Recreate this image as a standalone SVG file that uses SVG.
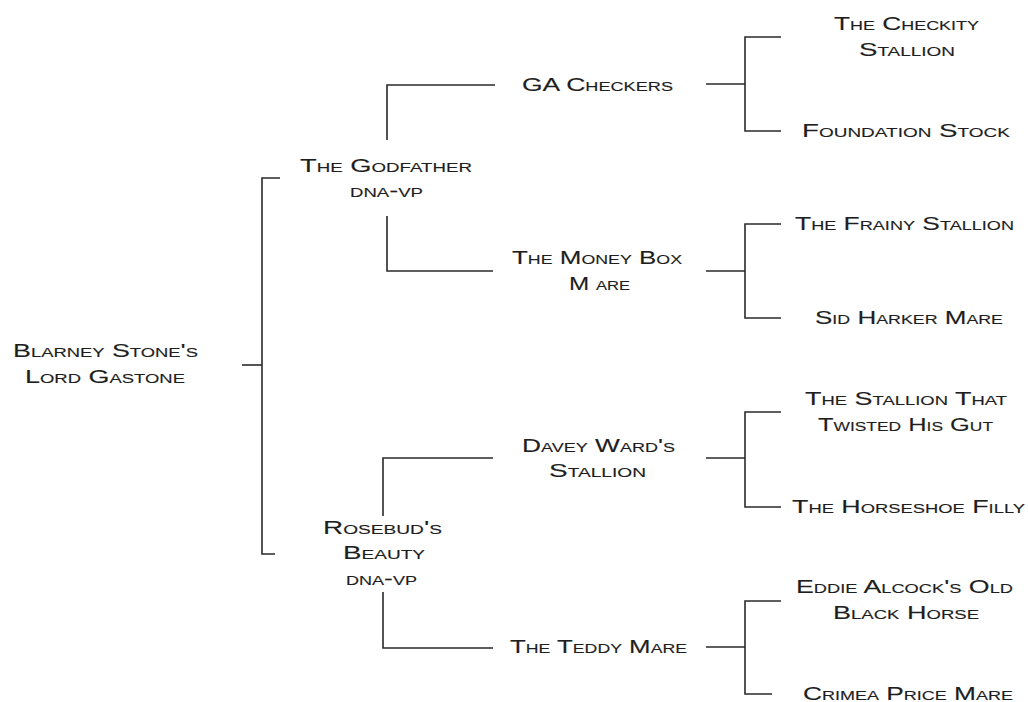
<svg xmlns="http://www.w3.org/2000/svg" width="1028" height="702" viewBox="0 0 1028 702">
<style>
text{font-family:"Liberation Sans",Arial,sans-serif;font-size:19px;font-variant:small-caps;fill:#1e1e1e;stroke:#1e1e1e;stroke-width:0.12}
.c path{fill:none;stroke:#2a2a2a;stroke-width:1.6}
</style>
<rect width="1028" height="702" fill="#fff"/>
<g class="c" id="connectors">
<path d="M242 365H262"/>
<path d="M280 178H262V554H275"/>
<path d="M495 85H387V140"/>
<path d="M387 216V271H493"/>
<path d="M493 458H383V516"/>
<path d="M383 592V648H493"/>
<path d="M706 84H745"/>
<path d="M781 37H745V131H781"/>
<path d="M706 271H745"/>
<path d="M781 224H745V318H781"/>
<path d="M706 458H745"/>
<path d="M781 412H745V507H781"/>
<path d="M706 647H745"/>
<path d="M781 601H745V694H772"/>
</g>
<g id="n-blarney">
<text x="13" y="357" textLength="185" lengthAdjust="spacingAndGlyphs">Blarney Stone's</text>
<text x="25" y="383" textLength="160" lengthAdjust="spacingAndGlyphs">Lord Gastone</text>
</g>
<g id="n-godfather">
<text x="300" y="172" textLength="172" lengthAdjust="spacingAndGlyphs">The Godfather</text>
<text x="350" y="197" textLength="73" lengthAdjust="spacingAndGlyphs">dna-vp</text>
</g>
<g id="n-rosebud">
<text x="323" y="534" textLength="119" lengthAdjust="spacingAndGlyphs">Rosebud's</text>
<text x="343" y="559" textLength="82" lengthAdjust="spacingAndGlyphs">Beauty</text>
<text x="346" y="585" textLength="71" lengthAdjust="spacingAndGlyphs">dna-vp</text>
</g>
<g id="n-gacheckers">
<text x="522" y="91" textLength="151" lengthAdjust="spacingAndGlyphs">GA Checkers</text>
</g>
<g id="n-moneybox">
<text x="512" y="264" textLength="170" lengthAdjust="spacingAndGlyphs">The Money Box</text>
<text x="569" y="290" textLength="61" lengthAdjust="spacingAndGlyphs">M are</text>
</g>
<g id="n-daveyward">
<text x="522" y="452" textLength="153" lengthAdjust="spacingAndGlyphs">Davey Ward's</text>
<text x="549" y="477" textLength="97" lengthAdjust="spacingAndGlyphs">Stallion</text>
</g>
<g id="n-teddy">
<text x="510" y="653" textLength="177" lengthAdjust="spacingAndGlyphs">The Teddy Mare</text>
</g>
<g id="n-checkity">
<text x="834" y="30" textLength="145" lengthAdjust="spacingAndGlyphs">The Checkity</text>
<text x="859" y="56" textLength="96" lengthAdjust="spacingAndGlyphs">Stallion</text>
</g>
<g id="n-foundation">
<text x="802" y="137" textLength="208" lengthAdjust="spacingAndGlyphs">Foundation Stock</text>
</g>
<g id="n-frainy">
<text x="795" y="230" textLength="219" lengthAdjust="spacingAndGlyphs">The Frainy Stallion</text>
</g>
<g id="n-sidharker">
<text x="815" y="324" textLength="188" lengthAdjust="spacingAndGlyphs">Sid Harker Mare</text>
</g>
<g id="n-twisted">
<text x="805" y="405" textLength="202" lengthAdjust="spacingAndGlyphs">The Stallion That</text>
<text x="818" y="431" textLength="175" lengthAdjust="spacingAndGlyphs">Twisted His Gut</text>
</g>
<g id="n-horseshoe">
<text x="792" y="513" textLength="233" lengthAdjust="spacingAndGlyphs">The Horseshoe Filly</text>
</g>
<g id="n-eddie">
<text x="796" y="593" textLength="217" lengthAdjust="spacingAndGlyphs">Eddie Alcock's Old</text>
<text x="833" y="619" textLength="146" lengthAdjust="spacingAndGlyphs">Black Horse</text>
</g>
<g id="n-crimea">
<text x="803" y="700" textLength="210" lengthAdjust="spacingAndGlyphs">Crimea Price Mare</text>
</g>
</svg>
